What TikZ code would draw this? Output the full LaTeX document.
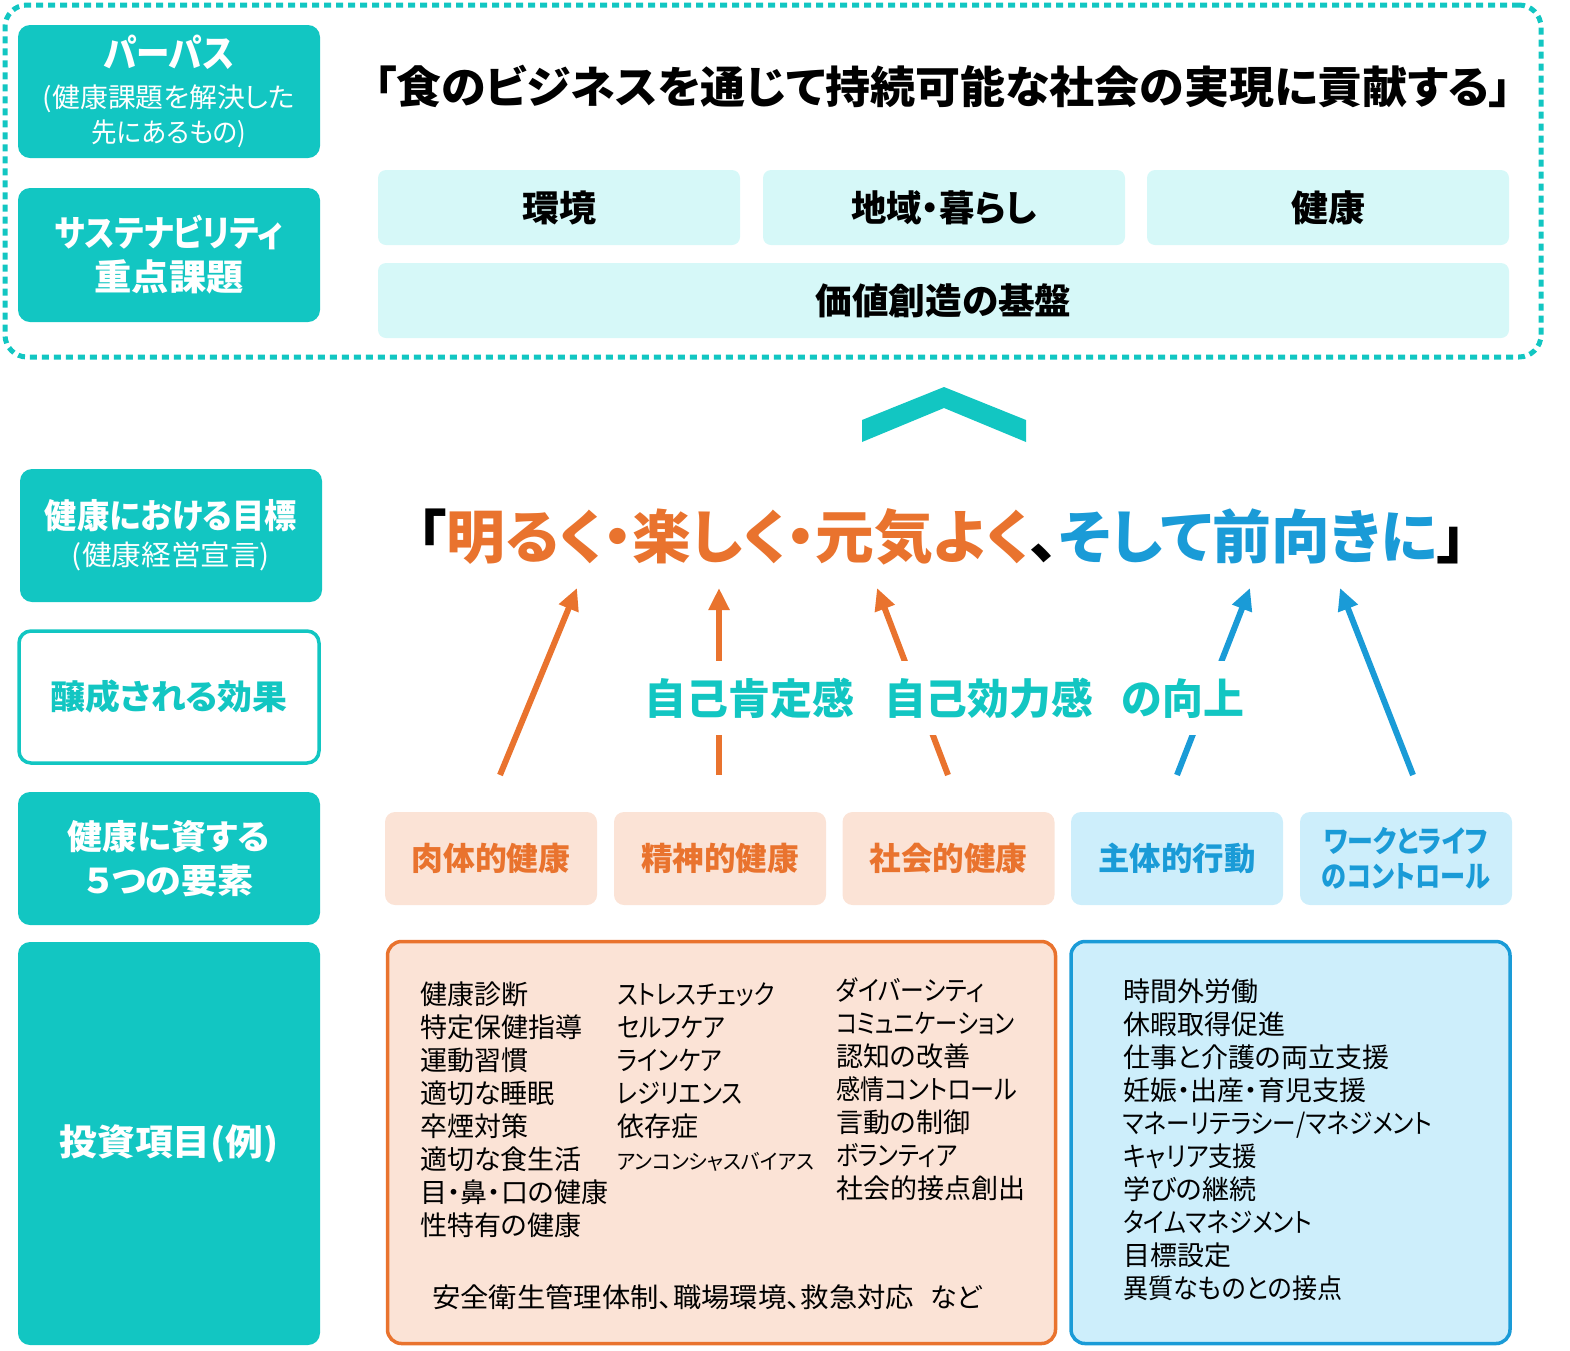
\documentclass[tikz,border=0pt]{standalone}
\usepackage{fontspec}
\usepackage{graphicx}
\setmainfont{Noto Sans CJK JP}[RawFeature=+palt]
\usetikzlibrary{arrows.meta}
\definecolor{tealc}{RGB}{18,198,194}
\definecolor{cyanl}{RGB}{214,248,248}
\definecolor{orangec}{RGB}{233,115,46}
\definecolor{peach}{RGB}{251,227,214}
\definecolor{bluec}{RGB}{26,155,215}
\definecolor{bluel}{RGB}{205,238,251}
\newcommand\fw[2]{\resizebox{#1pt}{\height}{#2}}
\newcommand\fsz[2]{\fontsize{#1pt}{#2pt}\selectfont}
\tikzset{
  lbox/.style={fill=tealc, rounded corners=12pt, text=white, align=center, minimum width=302pt, inner sep=0pt},
  framebox/.style={draw=tealc, line width=5pt, dash pattern=on 7pt off 5pt, rounded corners=22pt, inner sep=0pt},
  topbox/.style={fill=cyanl, rounded corners=8pt, minimum height=75pt, inner sep=0pt, font=\bfseries\fsz{36}{40}},
  obox/.style={fill=peach, rounded corners=10pt, minimum width=212pt, minimum height=93pt, text=orangec, font=\bfseries\fsz{32}{35}, align=center, inner sep=0pt},
  bbox/.style={fill=bluel, rounded corners=10pt, minimum width=212pt, minimum height=93pt, text=bluec, font=\bfseries\fsz{32}{35}, align=center, inner sep=0pt},
  arr/.style={line width=6pt, -{Triangle[length=22pt,width=20pt]}},
  listtxt/.style={font=\fsz{27}{33}, align=left, anchor=north west, inner sep=0pt},
}
\begin{document}
\begin{tikzpicture}[x=1pt,y=-1pt]
\useasboundingbox (0,0) rectangle (1570,1350);
% outer dotted frame
\node[framebox, minimum width=1536pt, minimum height=352pt] (frame) at (773,181) {};
% left column
\node[lbox, minimum height=133pt, font=\fsz{27}{35}] (purpose) at (169,91.5)
  {{\bfseries\fsz{38}{38}\fw{130}{パーパス}}\\[5pt]\fw{252}{(健康課題を解決した}\\\fw{155}{先にあるもの)}};
\node[lbox, minimum height=134pt, font=\bfseries\fsz{36}{44}] (sus) at (169,255)
  {\fw{228}{サステナビリティ}\\\fw{149}{重点課題}};
\node[lbox, minimum height=133pt, font=\fsz{28}{37}] (goalL) at (171,535.5)
  {{\bfseries\fsz{34}{34}\fw{252}{健康における目標}}\\\fw{198}{(健康経営宣言)}};
\node[draw=tealc, line width=3.5pt, fill=white, rounded corners=12pt, minimum width=300pt, minimum height=132pt, text=tealc, font=\bfseries\fsz{34}{38}, inner sep=0pt] (effL) at (169,697) {\fw{237}{醸成される効果}};
\node[lbox, minimum height=133pt, font=\bfseries\fsz{34}{44}] (elemL) at (169,858.5)
  {\fw{202}{健康に資する}\\\fw{169}{５つの要素}};
\node[lbox, minimum height=403pt, font=\bfseries\fsz{36}{40}] (invL) at (169,1143.5) {\fw{219}{投資項目(例)}};
% purpose title
\node[font=\bfseries\fsz{44}{48}, inner sep=0pt] (title) at (943,87) {\fw{1138}{「食のビジネスを通じて持続可能な社会の実現に貢献する」}};
% sustainability boxes
\node[topbox, minimum width=362pt] (env) at (559,207.5) {\fw{74}{環境}};
\node[topbox, minimum width=362pt] (reg) at (944,207.5) {\fw{186}{地域・暮らし}};
\node[topbox, minimum width=362pt] (hea) at (1328,207.5) {\fw{74}{健康}};
\node[topbox, minimum width=1131pt] (base) at (943.5,300.5) {\fw{256}{価値創造の基盤}};
% chevron
\fill[tealc] (862,420) -- (944,387) -- (1026,420) -- (1026,442) -- (944,408) -- (862,442) -- cycle;
% goal
\node[font=\bfseries\fsz{58}{60}, inner sep=0pt] (goal) at (942,537)
  {\fw{1050}{「{\color{orangec}明るく・楽しく・元気よく}、{\color{bluec}そして前向きに}」}};
% element boxes
\node[obox] (phys) at (491,858.5) {\fw{159}{肉体的健康}};
\node[obox] (ment) at (720,858.5) {\fw{158}{精神的健康}};
\node[obox] (soc) at (948.5,858.5) {\fw{158}{社会的健康}};
\node[bbox] (auto) at (1177,858.5) {\fw{157}{主体的行動}};
\node[bbox, font=\bfseries\fsz{30}{35}] (work) at (1406,858.5) {\fw{164}{ワークとライフ}\\\fw{168}{のコントロール}};
% arrows
\coordinate (s1) at (500,775); \coordinate (e1) at (577,588);
\coordinate (s2) at (719,775); \coordinate (e2) at (719,588);
\coordinate (s3) at (948,775); \coordinate (e3) at (877,588);
\coordinate (s4) at (1177,775); \coordinate (e4) at (1250,588);
\coordinate (s5) at (1413,775); \coordinate (e5) at (1340,588);
\draw[arr, orangec] (s1) -- (e1);
\draw[arr, orangec] (s2) -- (e2);
\draw[arr, orangec] (s3) -- (e3);
\draw[arr, bluec] (s4) -- (e4);
\draw[arr, bluec] (s5) -- (e5);
% effects text
\node[fill=white, text=tealc, font=\bfseries\fsz{42}{44}, inner xsep=0pt, minimum height=74pt] (eff) at (944,698)
  {\fw{210}{自己肯定感}\hspace{30pt}\fw{209}{自己効力感}\hspace{29pt}\fw{122}{の向上}};
% investment boxes
\node[draw=orangec, fill=peach, line width=3.5pt, rounded corners=14pt, minimum width=668pt, minimum height=402pt, inner sep=0pt] (invO) at (721.5,1142.5) {};
\node[draw=bluec, fill=bluel, line width=3.5pt, rounded corners=14pt, minimum width=439pt, minimum height=402pt, inner sep=0pt] (invB) at (1290.5,1142.5) {};
\node[listtxt] (c1) at (420,982) {健康診断\\特定保健指導\\運動習慣\\適切な睡眠\\卒煙対策\\適切な食生活\\目・鼻・口の健康\\性特有の健康};
\node[listtxt] (c2) at (617,982) {\fw{158}{ストレスチェック}\\\fw{108}{セルフケア}\\\fw{105}{ラインケア}\\\fw{125}{レジリエンス}\\依存症\\{\fsz{21}{21}\fw{197}{アンコンシャスバイアス}}};
\node[listtxt] (c3) at (836,977) {\fw{148}{ダイバーシティ}\\\fw{178}{コミュニケーション}\\認知の改善\\\fw{181}{感情コントロール}\\言動の制御\\\fw{121}{ボランティア}\\社会的接点創出};
\node[font=\fsz{27}{33}, anchor=west, inner sep=0pt] (c4) at (432,1297) {\fw{482}{安全衛生管理体制、職場環境、救急対応}\hspace{16pt}など};
\node[listtxt] (c5) at (1123,979) {時間外労働\\休暇取得促進\\仕事と介護の両立支援\\妊娠・出産・育児支援\\\fw{309}{マネーリテラシー/マネジメント}\\\fw{134}{キャリア支援}\\学びの継続\\\fw{189}{タイムマネジメント}\\目標設定\\\fw{219}{異質なものとの接点}};
\end{tikzpicture}
\end{document}
